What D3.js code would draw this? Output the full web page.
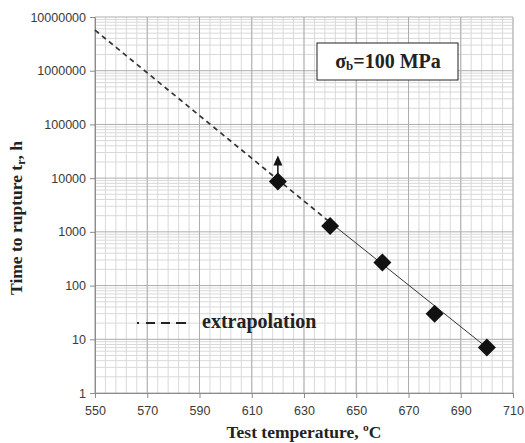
<!DOCTYPE html>
<html>
<head>
<meta charset="utf-8">
<script src="https://cdn.jsdelivr.net/npm/d3@7"></script>
<style>
  body { margin: 0; background: #fff; }
</style>
</head>
<body>
<div id="chart"></div>
<script>
// data
var temps = [620, 640, 660, 680, 700];
var hours = [8700, 1280, 270, 30, 7];
var extrapT = [550, 640];
var extrapH = [5700000, 1500];
var fitT = [640, 700];
var fitH = [1500, 7];
var xTicks = [550, 570, 590, 610, 630, 650, 670, 690, 710];
var yTicks = [1, 10, 100, 1000, 10000, 100000, 1000000, 10000000];

const width = 525, height = 443;
const margin = {top: 17, right: 12, bottom: 50, left: 95};
const serif = "'Liberation Serif', 'Times New Roman', serif";

var svg = d3.select("#chart").append("svg")
  .attr("width", width)
  .attr("height", height);

var x_scale = d3.scaleLinear().domain([550, 710]).range([margin.left, width - margin.right]);
var y_scale = d3.scaleLog().domain([1, 10000000]).range([height - margin.bottom, margin.top]);

var x0 = x_scale(550), x1 = x_scale(710), y0 = y_scale(1), y1 = y_scale(10000000);

// minor grid, vertical every 4 degrees
var vMinor = d3.range(550, 711, 4);
svg.selectAll(".vminor").data(vMinor).enter().append("line")
  .attr("x1", d => x_scale(d)).attr("x2", d => x_scale(d))
  .attr("y1", y0).attr("y2", y1)
  .attr("stroke", "#d9d9d9").attr("stroke-width", 1);

// minor grid, horizontal 2..9 per decade
var hMinor = [];
for (var e = 0; e < 7; e++) {
  for (var k = 2; k < 10; k++) hMinor.push(k * Math.pow(10, e));
}
svg.selectAll(".hminor").data(hMinor).enter().append("line")
  .attr("x1", x0).attr("x2", x1)
  .attr("y1", d => y_scale(d)).attr("y2", d => y_scale(d))
  .attr("stroke", "#d9d9d9").attr("stroke-width", 1);

// major grid
svg.selectAll(".vmajor").data(xTicks).enter().append("line")
  .attr("x1", d => x_scale(d)).attr("x2", d => x_scale(d))
  .attr("y1", y0).attr("y2", y1)
  .attr("stroke", "#adadad").attr("stroke-width", 1);
svg.selectAll(".hmajor").data(yTicks).enter().append("line")
  .attr("x1", x0).attr("x2", x1)
  .attr("y1", d => y_scale(d)).attr("y2", d => y_scale(d))
  .attr("stroke", "#adadad").attr("stroke-width", 1);

// axes
var xAxis = svg.append("g")
  .attr("transform", "translate(0," + y0 + ")")
  .call(d3.axisBottom(x_scale).tickValues(xTicks).tickSize(5).tickSizeOuter(0).tickFormat(d3.format("d")));
var yAxis = svg.append("g")
  .attr("transform", "translate(" + x0 + ",0)")
  .call(d3.axisLeft(y_scale).tickValues(yTicks).tickSize(5).tickSizeOuter(0).tickFormat(d3.format("d")));
[xAxis, yAxis].forEach(function (g) {
  g.selectAll("path, line").attr("stroke", "#8c8c8c");
  g.selectAll("text").attr("fill", "#3a3a3a").style("font", "12.5px 'Liberation Sans', Arial, sans-serif");
});
xAxis.selectAll("text").attr("dy", "1.15em");
yAxis.selectAll("text").attr("x", -9);

// extrapolated (dashed) and fitted (solid) lines
var line = d3.line().x(d => x_scale(d[0])).y(d => y_scale(d[1]));
svg.append("path")
  .attr("d", line(extrapT.map((t, i) => [t, extrapH[i]])))
  .attr("fill", "none").attr("stroke", "#333").attr("stroke-width", 1.7)
  .attr("stroke-dasharray", "5,4");
svg.append("path")
  .attr("d", line(fitT.map((t, i) => [t, fitH[i]])))
  .attr("fill", "none").attr("stroke", "#333").attr("stroke-width", 1);

// arrow above the run-out point
var ax = x_scale(temps[0]), ay = y_scale(hours[0]);
svg.append("line").attr("x1", ax).attr("x2", ax).attr("y1", ay - 6).attr("y2", ay - 17)
  .attr("stroke", "#111").attr("stroke-width", 1.5);
svg.append("path")
  .attr("d", "M" + (ax - 4.5) + "," + (ay - 16) + "L" + ax + "," + (ay - 26) + "L" + (ax + 4.5) + "," + (ay - 16) + "Z")
  .attr("fill", "#111");

// diamonds
svg.selectAll(".pt").data(temps).enter().append("path")
  .attr("transform", (d, i) => "translate(" + x_scale(d) + "," + y_scale(hours[i]) + ")")
  .attr("d", "M0,-9L9,0L0,9L-9,0Z")
  .attr("fill", "#111");

// legend
svg.append("line").attr("x1", 137).attr("x2", 186).attr("y1", 323).attr("y2", 323)
  .attr("stroke", "#222").attr("stroke-width", 2.2).attr("stroke-dasharray", "2,7,9,6,9,6,10");
svg.append("text").attr("x", 202).attr("y", 328)
  .style("font", "bold 20px " + serif).attr("fill", "#222")
  .text("extrapolation");

// stress box
svg.append("rect").attr("x", 317).attr("y", 43).attr("width", 141).attr("height", 37)
  .attr("fill", "#fff").attr("stroke", "#222").attr("stroke-width", 1);
var st = svg.append("text").attr("x", 388).attr("y", 68).attr("text-anchor", "middle")
  .style("font", "bold 20px " + serif).attr("fill", "#222");
st.append("tspan").text("σ");
st.append("tspan").attr("dy", 2).style("font-size", "13px").text("b");
st.append("tspan").attr("dy", -2).text("=100 MPa");

// axis titles
svg.append("text").attr("x", 304).attr("y", 438).attr("text-anchor", "middle")
  .style("font", "bold 17.5px " + serif).attr("fill", "#222")
  .text("Test temperature, ºC");
var yt = svg.append("text").attr("transform", "translate(22," + 218 + ") rotate(-90)")
  .attr("text-anchor", "middle")
  .style("font", "bold 17.5px " + serif).attr("fill", "#222");
yt.append("tspan").text("Time to rupture t");
yt.append("tspan").attr("dy", 3).style("font-size", "12px").text("r");
yt.append("tspan").attr("dy", -3).text(", h");
</script>
</body>
</html>
